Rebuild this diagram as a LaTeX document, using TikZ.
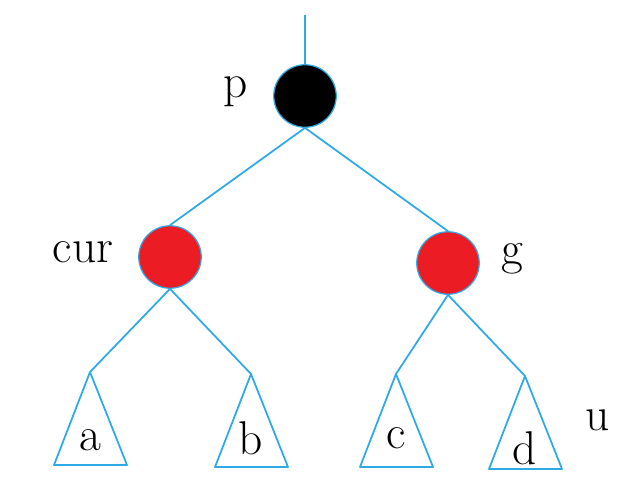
\documentclass[tikz,border=0pt]{standalone}
\usepackage{tikz}
\usetikzlibrary{positioning,calc}
\definecolor{edgeblue}{RGB}{45,170,230}
\definecolor{nodered}{RGB}{236,28,36}

\begin{document}
\begin{tikzpicture}[x=0.02cm,y=-0.02cm,
   every node/.style={font=\fontsize{27}{31}\selectfont},
   rb/.style={circle,draw=edgeblue,line width=0.7pt,minimum size=1.25cm,inner sep=0pt},
   edge/.style={edgeblue,line width=1pt},
   tri/.style={edgeblue,line width=1pt,line join=round}
]
\useasboundingbox (0,0) rectangle (640,498);

% tree nodes
\node[rb,fill=black]   (p)   at (305,96)  {};
\node[rb,fill=nodered] (cur) at (170,257) {};
\node[rb,fill=nodered] (g)   at (448,263) {};
\coordinate (top) at (305,15);

% labels
\node (lp)   at (236,92)  {p};
\node (lcur) at (83,252)  {cur};
\node (lg)   at (512,259) {g};
\node (lu)   at (598,420) {u};

% subtree apexes
\coordinate (ta) at (90,372);
\coordinate (tb) at (251,374);
\coordinate (tc) at (396,374);
\coordinate (td) at (525,376);

% subtrees
\foreach \t/\l/\dy in {ta/a/68,tb/b/64,tc/c/64,td/d/72} {
  \draw[tri] (\t) -- ++(-36,93) -- ++(73,0) -- cycle;
  \node (l\l) at ($(\t)+(0,\dy)$) {\l};
}

% edges
\draw[edge] (top) -- (p.north);
\draw[edge] (p.south) -- (cur.north);
\draw[edge] (p.south) -- (g.north);
\draw[edge] (cur.south) -- (ta);
\draw[edge] (cur.south) -- (tb);
\draw[edge] (g.south) -- (tc);
\draw[edge] (g.south) -- (td);

\end{tikzpicture}
\end{document}
